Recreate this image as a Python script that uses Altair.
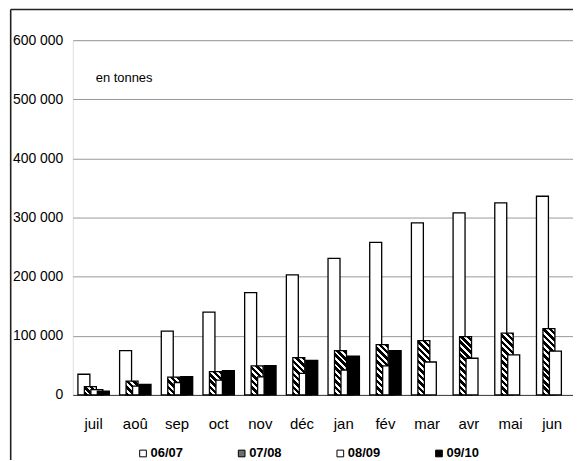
import altair as alt

# ---- data ----
months = ["juil", "aoû", "sep", "oct", "nov", "déc", "jan", "fév", "mar", "avr", "mai", "jun"]
series = ["06/07", "07/08", "08/09", "09/10"]
v0607 = [35000, 75000, 108000, 140000, 173000, 203000, 231000, 258000, 291000, 308000, 325000, 336000]
v0708 = [14000, 23500, 30000, 39500, 49000, 63000, 75000, 85000, 92000, 98500, 104500, 112000]
v0809 = [9000, 15000, 21000, 25000, 30500, 36600, 42000, 49000, 55700, 62000, 67800, 74000]
v0910 = [6500, 18000, 31000, 41000, 49500, 58500, 65800, 74800]

# ---- layout / style ----
W_PLOT, H_PLOT = 502, 356
YMAX = 600000
BAR_W = 12
OFFSETS = [-9.75, -3.25, 3.25, 9.75]
FONT = "Liberation Sans, Arial, sans-serif"
FILLS = ["#ffffff", "#6e6e6e", "#ffffff", "#000000"]


def hatch(v):
    """Diagonal stripe gradient for one bar of value v (45 degree stripes)."""
    H = max(v / YMAX * H_PLOT, 1.0)
    W = BAR_W
    k = (W + H) / (W * W + H * H)
    L = W + H
    P = 6.5
    n = L / P
    stops = []
    i = 0
    while i < n:
        a = i / n
        b = min((i + 0.55) / n, 1.0)
        c = min((i + 1) / n, 1.0)
        stops += [
            {"offset": a, "color": "#000000"},
            {"offset": b, "color": "#000000"},
            {"offset": b, "color": "#ffffff"},
            {"offset": c, "color": "#ffffff"},
        ]
        i += 1
    return {"gradient": "linear", "x1": 0, "y1": 1, "x2": k * W, "y2": 1 - k * H, "stops": stops}


def records(vals, name, with_hatch=False):
    out = []
    for m, v in zip(months, vals):
        r = {"month": m, "value": v, "series": name}
        if with_hatch:
            r["grad"] = hatch(v)
        out.append(r)
    return out


x_enc = alt.X(
    "month:N",
    sort=months,
    scale=alt.Scale(domain=months, paddingInner=0, paddingOuter=0),
    axis=alt.Axis(
        title=None, labelAngle=0, ticks=False, labelPadding=22,
        domain=True, domainColor="#444444", grid=False,
        labelFont=FONT, labelFontSize=15, labelColor="#000000",
    ),
)
y_enc = alt.Y(
    "value:Q",
    scale=alt.Scale(domain=[0, YMAX], nice=False, zero=True),
    axis=alt.Axis(
        title=None, values=[0, 100000, 200000, 300000, 400000, 500000, 600000],
        labelExpr="replace(format(datum.value, ','), ',', ' ')",
        ticks=False, domain=False, grid=True, gridColor="#9a9a9a", gridWidth=1,
        labelPadding=10, labelFont=FONT, labelFontSize=14, labelColor="#000000",
    ),
)

fill_scale = alt.Scale(domain=series, range=FILLS)
legend = alt.Legend(
    title=None, orient="none", direction="horizontal", columns=4,
    legendX=64, legendY=408, symbolType="square", symbolSize=45,
    symbolStrokeColor="#000000", symbolStrokeWidth=1,
    labelFont=FONT, labelFontSize=13, labelFontWeight="bold", labelColor="#000000",
    labelOffset=1, columnPadding=52, padding=0,
)


def bar_layer(vals, name, idx):
    base = alt.Chart(alt.Data(values=records(vals, name, with_hatch=(idx == 1)))).mark_bar(
        width=BAR_W, xOffset=OFFSETS[idx], stroke="#000000", strokeWidth=1.3
    )
    if idx == 1:
        return base.encode(
            x=x_enc, y=y_enc,
            fill=alt.Fill("grad:N", scale=None),
        )
    return base.encode(
        x=x_enc, y=y_enc,
        fill=alt.Fill("series:N", scale=fill_scale, legend=legend),
    )


bars = [bar_layer(v, s, i) for i, (v, s) in enumerate(zip([v0607, v0708, v0809, v0910], series))]

one = alt.Data(values=[{"k": 1}])
note = alt.Chart(one).mark_text(
    align="left", baseline="alphabetic", font=FONT, fontSize=13, color="#000000"
).encode(x=alt.value(23), y=alt.value(41.5), text=alt.value("en tonnes"))

frame_left = alt.Chart(one).mark_rule(color="#222222", strokeWidth=1.6).encode(
    x=alt.value(-62.3), y=alt.value(-30.8), y2=alt.value(440)
)
frame_top = alt.Chart(one).mark_rule(color="#222222", strokeWidth=1.6).encode(
    x=alt.value(-62.3), x2=alt.value(520), y=alt.value(-30.8)
)

chart = alt.layer(*bars, note, frame_left, frame_top).properties(
    width=W_PLOT, height=H_PLOT,
    autosize=alt.AutoSizeParams(type="none"),
    padding={"left": 65, "top": 31.5, "right": 0, "bottom": 64},
).configure_view(stroke=None).configure(background="#ffffff")

chart.save("out.html", embed_options={"renderer": "svg", "actions": False})
